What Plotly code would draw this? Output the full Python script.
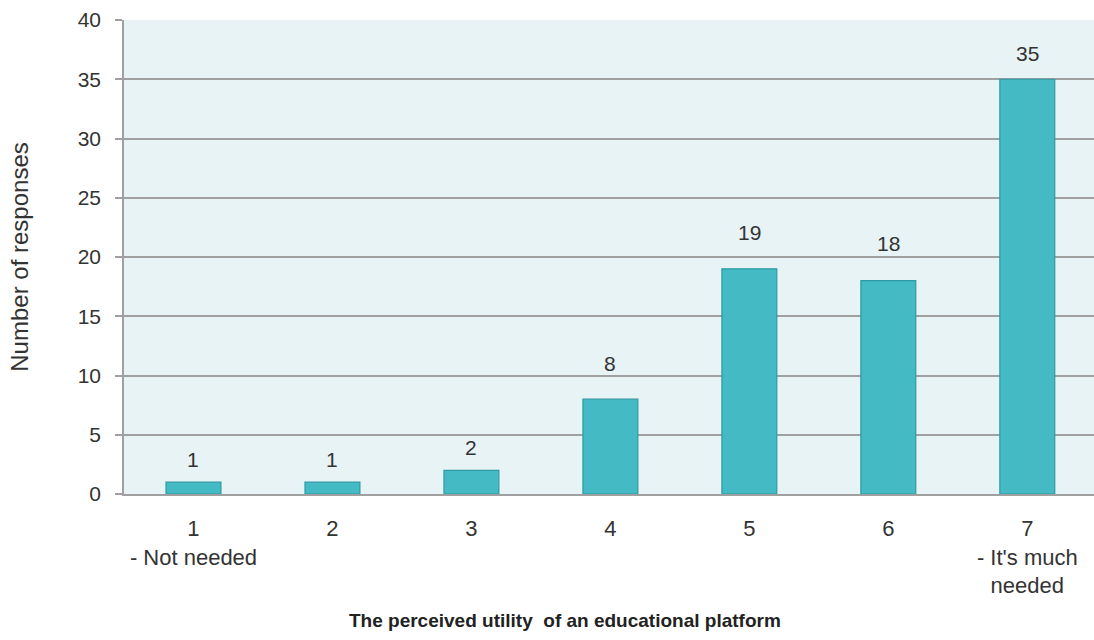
import plotly.graph_objects as go

# Survey responses per rating on a 1–7 scale
ratings = [1, 2, 3, 4, 5, 6, 7]
responses = [1, 1, 2, 8, 19, 18, 35]
tick_labels = ["1<br>- Not needed", "2", "3", "4", "5", "6", "7<br>- It's much<br>needed"]
y_ticks = [0, 5, 10, 15, 20, 25, 30, 35, 40]

# Pixel gap between each bar top and its value label
label_gap = [9, 9, 9, 22, 23, 24, 12]

BAR = "#43bac4"
BAR_EDGE = "#2e9aa3"
GRID = "#a0a0a0"
TEXT = "#333333"
FONT = "Liberation Sans, Arial, sans-serif"

W, H = 1094, 640
M_L, M_R, M_T, M_B = 124, 0, 20, 146
plot_w = W - M_L - M_R
plot_h = H - M_T - M_B

fig = go.Figure()
fig.add_trace(go.Bar(
    x=ratings,
    y=responses,
    width=0.395,
    marker=dict(color=BAR, line=dict(color=BAR_EDGE, width=1.2)),
    hoverinfo="x+y",
))

# Value labels above each bar
for r, v, g in zip(ratings, responses, label_gap):
    fig.add_annotation(x=r, y=v, text=str(v), showarrow=False,
                       yanchor="bottom", yshift=g,
                       font=dict(size=21, color=TEXT, family=FONT))

# Horizontal axis title, centred at pixel (565, 620)
fig.add_annotation(x=(565 - M_L) / plot_w, xref="paper",
                   y=(H - M_B - 620) / plot_h, yref="paper",
                   text="<b>The perceived utility  of an educational platform</b>",
                   showarrow=False, xanchor="center", yanchor="middle",
                   font=dict(size=19, color="#222222", family=FONT))

fig.update_layout(
    width=W, height=H,
    margin=dict(l=M_L, r=M_R, t=M_T, b=M_B),
    paper_bgcolor="white",
    plot_bgcolor="#e8f3f5",
    showlegend=False,
    font=dict(family=FONT, color=TEXT, size=21),
    bargap=0.6,
)
fig.update_xaxes(
    range=[0.5, 7.48],
    tickvals=ratings, ticktext=tick_labels,
    tickfont=dict(size=22, color=TEXT),
    ticks="", ticklabelstandoff=14,
    showgrid=False, zeroline=False,
    showline=True, linecolor=GRID, linewidth=1.5,
)
fig.update_yaxes(
    range=[0, 40],
    tickvals=y_ticks,
    tickfont=dict(size=21, color=TEXT),
    ticks="outside", ticklen=7, tickcolor=GRID, tickwidth=1.5,
    showgrid=True, gridcolor=GRID, gridwidth=1.5,
    zeroline=False,
    showline=True, linecolor=GRID, linewidth=1.5,
    ticklabelstandoff=10,
    title=dict(text="Number of responses", font=dict(size=24, color=TEXT), standoff=42),
)

fig.write_html("out.html")
